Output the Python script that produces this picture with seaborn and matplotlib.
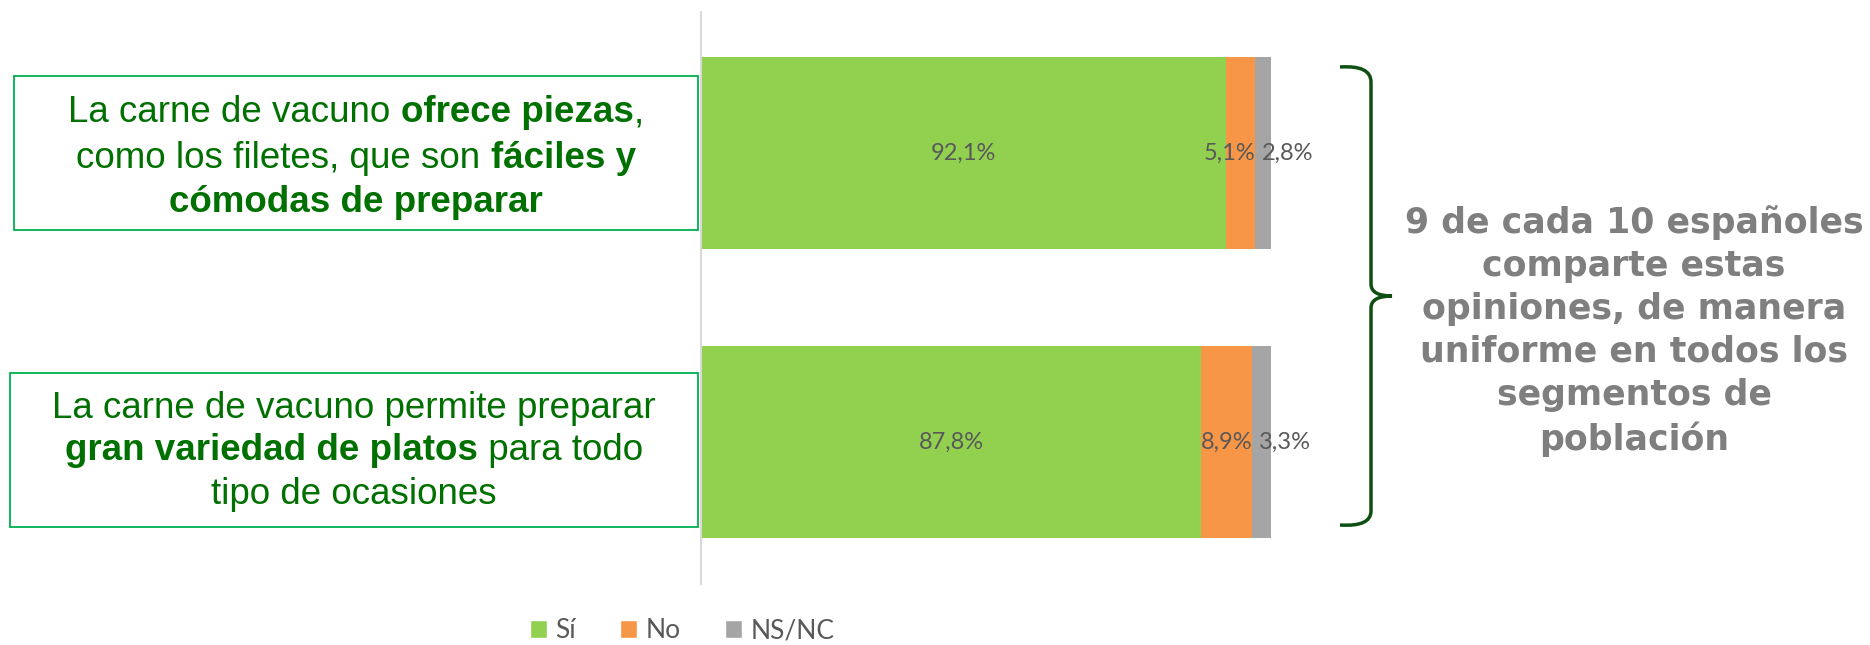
import matplotlib
matplotlib.use("Agg")
import numpy as np
import pandas as pd
import matplotlib.pyplot as plt
import seaborn as sns
from matplotlib.patches import Rectangle, Patch, PathPatch
from matplotlib.path import Path

# data
categories = ["Fáciles y cómodas", "Gran variedad"]
si = [92.1, 87.8]
no = [5.1, 8.9]
nsnc = [2.8, 3.3]
series_names = ["Sí", "No", "NS/NC"]
colors = ["#92D050", "#F79646", "#A5A5A5"]

df = pd.DataFrame({"cat": categories, "si": si, "no": no, "nsnc": nsnc})
df["c1"] = df["si"]
df["c2"] = df["si"] + df["no"]
df["c3"] = df["c2"] + df["nsnc"]

sns.set_style("white")
W, H = 1870, 645
fig = plt.figure(figsize=(W / 100, H / 100), dpi=100)
ax = fig.add_axes([701 / W, 1 - 584 / H, 570 / W, 572 / H])

# stacked bars: draw cumulative totals back to front
for col, c in zip(["c3", "c2", "c1"], colors[::-1]):
    sns.barplot(data=df, x=col, y="cat", orient="h", color=c, width=0.664,
                saturation=1, errorbar=None, edgecolor="none", ax=ax)

ax.set_xlim(0, 100)
ax.set_ylim(1.491, -0.488)
ax.set_xlabel("")
ax.set_ylabel("")
ax.set_xticks([])
ax.set_yticks([])
for s in ["top", "right", "bottom"]:
    ax.spines[s].set_visible(False)
ax.spines["left"].set_color("#D9D9D9")
ax.spines["left"].set_linewidth(1.5)

def pct(v):
    return f"{v:.1f}%".replace(".", ",")

lab = dict(color="#595959", fontsize=17, family="Lato", va="center")
for i in range(len(categories)):
    ax.text(df["c1"][i] / 2, i, pct(si[i]), ha="center", **lab)
    ax.text(df["c2"][i] + 0.1, i, pct(no[i]), ha="right", **lab)
    ax.text(df["c2"][i] + 1.2, i, pct(nsnc[i]), ha="left", **lab)

# legend
handles = [Patch(facecolor=c, label=n) for c, n in zip(colors, series_names)]
fig.legend(handles=handles, loc="center", bbox_to_anchor=(682 / W, 1 - 631 / H),
           ncol=3, frameon=False, handlelength=0.65, handleheight=0.65,
           handletextpad=0.3, columnspacing=1.7, labelcolor="#595959",
           prop={"family": "Lato", "size": 19})

# left statement boxes with mixed bold text
renderer = fig.canvas.get_renderer()
green_txt = "#007000"

def seg_width(s, bold, size):
    kw = dict(fontsize=size, family="Liberation Sans", fontweight="bold" if bold else "normal")
    t1 = fig.text(0, 0, "|" + s + "|", **kw)
    t2 = fig.text(0, 0, "||", **kw)
    w = t1.get_window_extent(renderer).width - t2.get_window_extent(renderer).width
    t1.remove()
    t2.remove()
    return w

def rich_line(segments, cx, cy, size=26.5):
    widths = [seg_width(s, b, size) for s, b in segments]
    x = cx - sum(widths) / 2
    for (s, b), w in zip(segments, widths):
        fig.text(x / W, 1 - cy / H, s, fontsize=size,
                 family="Liberation Sans", fontweight="bold" if b else "normal",
                 color=green_txt, ha="left", va="center")
        x += w

box1 = [
    [("La carne de vacuno ", False), ("ofrece piezas", True), (",", False)],
    [("como los filetes, que son ", False), ("fáciles y", True)],
    [("cómodas de preparar", True)],
]
box2 = [
    [("La carne de vacuno permite preparar", False)],
    [("gran variedad de platos", True), (" para todo", False)],
    [("tipo de ocasiones", False)],
]

for (x0, y0, x1, y1), lines, ys in [((14, 76, 698, 230), box1, [113, 158, 203]),
                                     ((10, 373, 698, 527), box2, [408, 451, 495])]:
    fig.add_artist(Rectangle((x0 / W, 1 - y1 / H), (x1 - x0) / W, (y1 - y0) / H,
                             transform=fig.transFigure, fill=False,
                             edgecolor="#00B050", linewidth=1.3))
    for segs, y in zip(lines, ys):
        rich_line(segs, (x0 + x1) / 2, y)

# brace
pts = [(1340, 67), (1371, 65), (1371, 82), (1371, 284), (1371, 296), (1392, 296),
       (1371, 296), (1371, 308), (1371, 511), (1371, 527), (1340, 525)]
codes = [Path.MOVETO, Path.CURVE3, Path.CURVE3, Path.LINETO, Path.CURVE3, Path.CURVE3,
         Path.CURVE3, Path.CURVE3, Path.LINETO, Path.CURVE3, Path.CURVE3]
brace = Path([(x / W, 1 - y / H) for x, y in pts], codes)
fig.add_artist(PathPatch(brace, transform=fig.transFigure, fill=False,
                         edgecolor="#0F4F12", linewidth=2.5))

fig.text(1634 / W, 1 - 331 / H,
         "9 de cada 10 españoles\ncomparte estas\nopiniones, de manera\n"
         "uniforme en todos los\nsegmentos de\npoblación",
         ha="center", va="center", fontsize=25, fontweight="bold",
         family="DejaVu Sans", color="#7F7F7F", linespacing=1.33)

fig.savefig("out.png", dpi=100)
